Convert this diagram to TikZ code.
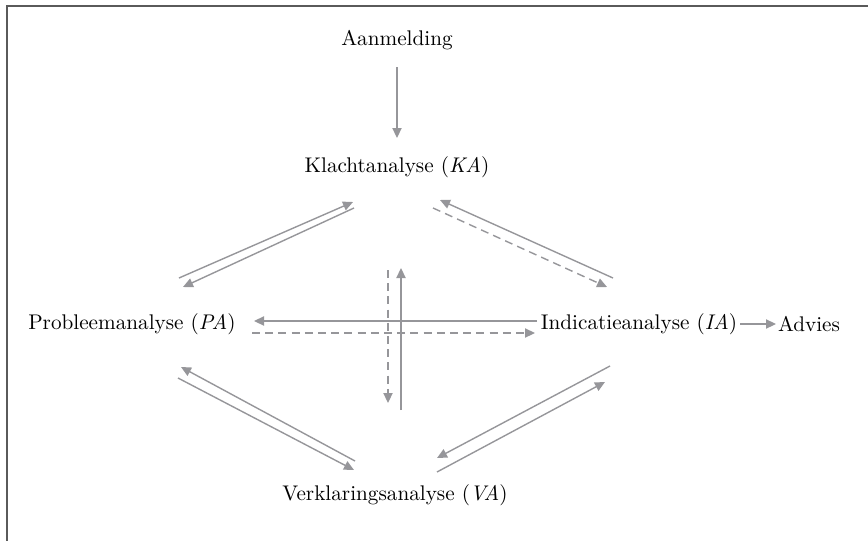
\documentclass[tikz,border=0pt]{standalone}
\usepackage{tikz}
\usetikzlibrary{arrows.meta, calc}
\definecolor{flowgray}{RGB}{150,150,154}
\definecolor{framegray}{RGB}{90,90,90}
\tikzset{
    phase/.style={inner sep=2pt, font=\fontsize{10.6}{13}\selectfont, text=black},
    flow/.style={-{Triangle[length=5pt, width=4.6pt]}, line width=0.7pt, flowgray},
    flowdash/.style={flow, dash pattern=on 4pt off 2.6pt},
}
\begin{document}
\begin{tikzpicture}[x=0.5pt, y=-0.5pt]
    \useasboundingbox (0,0) rectangle (868,541);
    % frame (top and left only)
    \draw[framegray, line width=1pt] (6.5,541) -- (6.5,5.5) -- (868,5.5);
    % phases
    \node[phase] (am)  at (397,40)  {Aanmelding};
    \node[phase] (ka)  at (397,167) {Klachtanalyse (\textit{KA})};
    \node[phase] (pa)  at (132,324) {Probleemanalyse (\textit{PA})};
    \node[phase] (ia)  at (639,324) {Indicatieanalyse (\textit{IA})};
    \node[phase] (adv) at (809,324) {Advies};
    \node[phase] (va)  at (395,495) {Verklaringsanalyse (\textit{VA})};
    % intake
    \draw[flow] ([shift={(0,27)}]am.center) -- ([shift={(0,-29)}]ka.center);
    \draw[flow] ([shift={(101,0)}]ia.center) -- ([shift={(-33,0)}]adv.center);
    % KA <-> PA
    \draw[flow] ([shift={(47,-46)}]pa.center) -- ([shift={(-44,35)}]ka.center);
    \draw[flow] ([shift={(-43,41)}]ka.center) -- ([shift={(51,-37)}]pa.center);
    % KA <-> IA
    \draw[flow] ([shift={(-26,-46)}]ia.center) -- ([shift={(43,33)}]ka.center);
    \draw[flowdash] ([shift={(36,41)}]ka.center) -- ([shift={(-32,-37)}]ia.center);
    % PA <-> IA
    \draw[flow] ([shift={(-102,-3)}]ia.center) -- ([shift={(122,-3)}]pa.center);
    \draw[flowdash] ([shift={(120,9)}]pa.center) -- ([shift={(-104,9)}]ia.center);
    % KA <-> VA
    \draw[flowdash] ([shift={(-9,103)}]ka.center) -- ([shift={(-7,-92)}]va.center);
    \draw[flow] ([shift={(6,-85)}]va.center) -- ([shift={(4,101)}]ka.center);
    % PA <-> VA
    \draw[flow] ([shift={(-40,-34)}]va.center) -- ([shift={(49,43)}]pa.center);
    \draw[flow] ([shift={(46,54)}]pa.center) -- ([shift={(-41,-25)}]va.center);
    % IA <-> VA
    \draw[flow] ([shift={(-29,42)}]ia.center) -- ([shift={(42,-37)}]va.center);
    \draw[flow] ([shift={(42,-23)}]va.center) -- ([shift={(-34,58)}]ia.center);
\end{tikzpicture}
\end{document}
